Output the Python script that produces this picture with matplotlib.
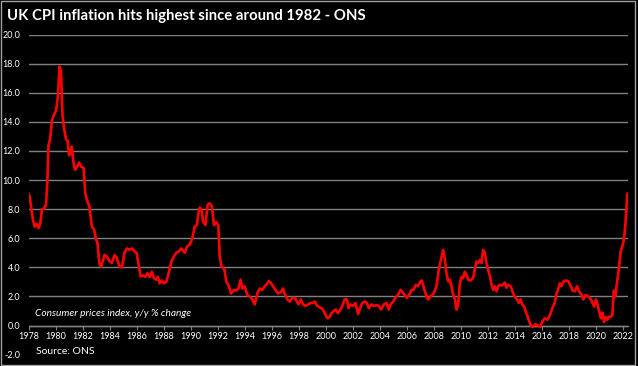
import numpy as np
import matplotlib.pyplot as plt
from matplotlib.patches import Rectangle

plt.rcParams['font.family'] = ['Lato', 'DejaVu Sans']

# UK CPI, y/y % change (time in fractional years)
years = [
    1978.00, 1978.08, 1978.32, 1978.45, 1978.60, 1978.74, 1978.87, 1978.99,
    1979.16, 1979.30, 1979.40, 1979.48, 1979.60, 1979.73, 1979.90,
    1980.05, 1980.17, 1980.30, 1980.40, 1980.52, 1980.64, 1980.77, 1980.90,
    1981.00, 1981.10, 1981.20, 1981.33, 1981.46, 1981.58, 1981.75, 1981.90,
    1982.07, 1982.20, 1982.32, 1982.50, 1982.69, 1982.86,
    1983.00, 1983.10, 1983.26, 1983.38, 1983.63, 1983.80,
    1984.00, 1984.17, 1984.37, 1984.54, 1984.74, 1984.93,
    1985.10, 1985.28, 1985.48, 1985.68, 1985.85,
    1986.00, 1986.17, 1986.30, 1986.47, 1986.64, 1986.80, 1986.97,
    1987.13, 1987.28, 1987.46, 1987.58, 1987.70, 1987.87,
    1988.02, 1988.20, 1988.40, 1988.57, 1988.74, 1988.94,
    1989.14, 1989.30, 1989.42, 1989.57, 1989.75, 1989.93,
    1990.13, 1990.30, 1990.47, 1990.57, 1990.67, 1990.80, 1990.92,
    1991.10, 1991.26, 1991.40, 1991.58, 1991.73, 1991.90,
    1992.05, 1992.15, 1992.27, 1992.50, 1992.64, 1992.80,
    1993.00, 1993.20, 1993.38, 1993.54, 1993.70, 1993.82,
    1994.00, 1994.20, 1994.37, 1994.57, 1994.74, 1994.86, 1994.99,
    1995.15, 1995.30, 1995.48, 1995.60, 1995.78, 1995.93,
    1996.10, 1996.27, 1996.47, 1996.67, 1996.84, 1996.96,
    1997.16, 1997.33, 1997.53, 1997.70, 1997.87,
    1998.00, 1998.15, 1998.32, 1998.50, 1998.69, 1998.90,
    1999.06, 1999.19, 1999.38, 1999.56, 1999.75, 1999.90,
    2000.12, 2000.30, 2000.42, 2000.60, 2000.74, 2000.90,
    2001.10, 2001.23, 2001.40, 2001.56, 2001.69, 2001.83,
    2002.00, 2002.20, 2002.40, 2002.55, 2002.70, 2002.88,
    2003.05, 2003.20, 2003.38, 2003.55, 2003.75, 2003.94,
    2004.10, 2004.30, 2004.50, 2004.67, 2004.80, 2004.99,
    2005.15, 2005.36, 2005.53, 2005.68, 2005.85,
    2006.00, 2006.17, 2006.35, 2006.50, 2006.67, 2006.83,
    2007.00, 2007.12, 2007.30, 2007.50, 2007.60, 2007.75, 2007.99,
    2008.20, 2008.37, 2008.52, 2008.69, 2008.80, 2008.94,
    2009.06, 2009.18, 2009.31, 2009.44, 2009.56, 2009.68, 2009.80, 2009.93,
    2010.05, 2010.16, 2010.30, 2010.43, 2010.54, 2010.74, 2010.90,
    2011.04, 2011.16, 2011.28, 2011.40, 2011.53, 2011.65, 2011.77, 2011.90,
    2012.02, 2012.15, 2012.28, 2012.40, 2012.52, 2012.65, 2012.77, 2012.90,
    2013.05, 2013.26, 2013.38, 2013.50, 2013.70, 2013.83, 2013.96,
    2014.07, 2014.20, 2014.30, 2014.42, 2014.54, 2014.67, 2014.79, 2014.94,
    2015.06, 2015.19, 2015.36, 2015.50, 2015.73, 2015.85,
    2016.05, 2016.22, 2016.40, 2016.59, 2016.78, 2016.96,
    2017.08, 2017.20, 2017.33, 2017.44, 2017.57, 2017.75, 2017.95,
    2018.12, 2018.27, 2018.45, 2018.60, 2018.75, 2018.94,
    2019.06, 2019.23, 2019.43, 2019.60, 2019.73, 2019.88,
    2020.00, 2020.12, 2020.25, 2020.37, 2020.47, 2020.60, 2020.72, 2020.85, 2020.96,
    2021.09, 2021.21, 2021.33, 2021.43, 2021.58, 2021.70, 2021.83, 2021.95,
    2022.07, 2022.17, 2022.27, 2022.32,
]
cpi = [
    9.05, 8.9, 7.3, 6.8, 7.0, 6.7, 7.0, 8.0,
    8.05, 8.3, 10.0, 12.4, 12.8, 14.1, 14.5,
    14.8, 15.75, 17.8, 17.5, 14.4, 13.5, 12.8, 12.7,
    11.7, 11.8, 12.3, 11.2, 10.7, 10.9, 11.2, 10.9,
    10.85, 9.1, 8.65, 8.2, 6.8, 6.6,
    5.9, 5.7, 4.2, 4.05, 4.85, 4.75,
    4.4, 4.3, 4.85, 4.65, 4.05, 4.0,
    5.0, 5.3, 5.2, 5.3, 5.1,
    5.0, 4.05, 3.37, 3.45, 3.35, 3.6, 3.35,
    3.7, 3.25, 3.15, 3.35, 2.9, 3.1,
    2.9, 3.0, 3.7, 4.4, 4.7, 5.0,
    5.1, 5.3, 5.2, 5.0, 5.45, 5.55,
    6.0, 6.8, 6.9, 7.7, 8.1, 8.0, 7.15,
    6.9, 8.3, 8.4, 8.2, 6.9, 7.1,
    6.9, 4.75, 4.1, 3.85, 3.0, 2.8,
    2.2, 2.45, 2.4, 2.55, 3.15, 2.55,
    2.7, 2.1, 2.0, 1.8, 1.45, 1.9, 2.35,
    2.55, 2.45, 2.7, 2.8, 3.05, 2.95,
    2.7, 2.45, 2.2, 2.3, 2.55, 2.2,
    1.8, 1.65, 1.9, 1.9, 1.65,
    1.45, 1.8, 1.45, 1.35, 1.45, 1.55,
    1.55, 1.65, 1.35, 1.25, 1.15, 0.9,
    0.5, 0.6, 0.85, 1.0, 1.1, 0.85,
    1.1, 1.35, 1.8, 1.8, 1.2, 1.45,
    1.35, 1.55, 0.8, 1.2, 1.55, 1.65,
    1.55, 1.2, 1.45, 1.35, 1.4, 1.35,
    1.1, 1.45, 1.55, 1.1, 1.45, 1.65,
    1.9, 2.1, 2.45, 2.3, 2.1,
    1.9, 2.1, 2.45, 2.45, 2.8, 2.7,
    3.0, 3.1, 2.45, 1.9, 1.8, 2.0, 2.2,
    2.7, 3.85, 4.5, 5.2, 4.65, 3.6,
    3.05, 3.15, 2.7, 2.1, 1.8, 1.1, 1.45, 2.9,
    3.35, 3.25, 3.7, 3.45, 3.15, 3.1, 3.25,
    3.85, 4.4, 4.3, 4.5, 4.3, 5.2, 5.0, 4.3,
    3.85, 3.4, 2.8, 2.45, 2.7, 2.35, 2.7, 2.8,
    2.75, 2.95, 2.6, 2.8, 2.7, 2.35, 2.0,
    1.9, 1.75, 1.55, 1.8, 1.45, 1.35, 1.0, 0.6,
    0.3, 0.0, -0.1, 0.1, 0.0, -0.1,
    0.3, 0.5, 0.4, 0.7, 1.2, 1.6,
    2.2, 2.45, 2.9, 2.7, 3.0, 3.1, 3.05,
    2.75, 2.4, 2.35, 2.7, 2.35, 2.1,
    1.8, 2.1, 2.0, 1.85, 1.6, 1.3,
    1.8, 1.45, 0.95, 0.5, 0.9, 0.25, 0.6, 0.4, 0.6,
    0.6, 0.7, 2.4, 2.0, 3.1, 3.9, 5.1, 5.4,
    5.9, 6.8, 8.2, 9.05,
]

xticks = list(range(1978, 2023, 2))
yticks = np.arange(-2, 21, 2)

fig = plt.figure(figsize=(6.38, 3.66), dpi=100, facecolor='black')
ax = fig.add_axes([0.0447, 0.031, 0.9393, 0.8747])
ax.set_facecolor('black')

ax.plot(years, cpi, color='#ff0000', lw=1.9, zorder=3)

ax.set_xlim(1978.0, 2022.36)
ax.set_ylim(-2, 20)
ax.set_yticks(yticks)
ax.set_yticklabels([f'{v:.1f}' for v in yticks])
ax.set_xticks(xticks)
ax.set_xticklabels([str(y) for y in xticks])

ax.yaxis.grid(True, color='#808080', lw=1.0)
ax.yaxis.get_gridlines()[0].set_visible(False)
for s in ['top', 'right', 'left']:
    ax.spines[s].set_visible(False)
ax.spines['bottom'].set_position(('data', 0))
ax.spines['bottom'].set_color('#808080')
ax.spines['bottom'].set_linewidth(1.0)
ax.tick_params(axis='y', length=0, pad=6, labelsize=6.5, labelcolor='white')
ax.tick_params(axis='x', length=3, color='#808080', direction='out', pad=2,
               labelsize=6.5, labelcolor='white')

fig.text(0.011, 0.955, 'UK CPI inflation hits highest since around 1982 - ONS',
         color='white', fontsize=10.7, fontweight='bold', va='center', ha='left')
ax.text(1978.5, 0.8, 'Consumer prices index, y/y % change', color='white',
        fontsize=7.3, style='italic', va='center', ha='left')
fig.text(0.056, 0.04, 'Source: ONS', color='white', fontsize=7.5, va='center', ha='left')

fig.add_artist(Rectangle((0.0008, 0.003), 0.995, 0.995, transform=fig.transFigure,
                         fill=False, edgecolor='#a0a0a0', lw=1.0))

fig.savefig('out.png', dpi=100, facecolor='black')
